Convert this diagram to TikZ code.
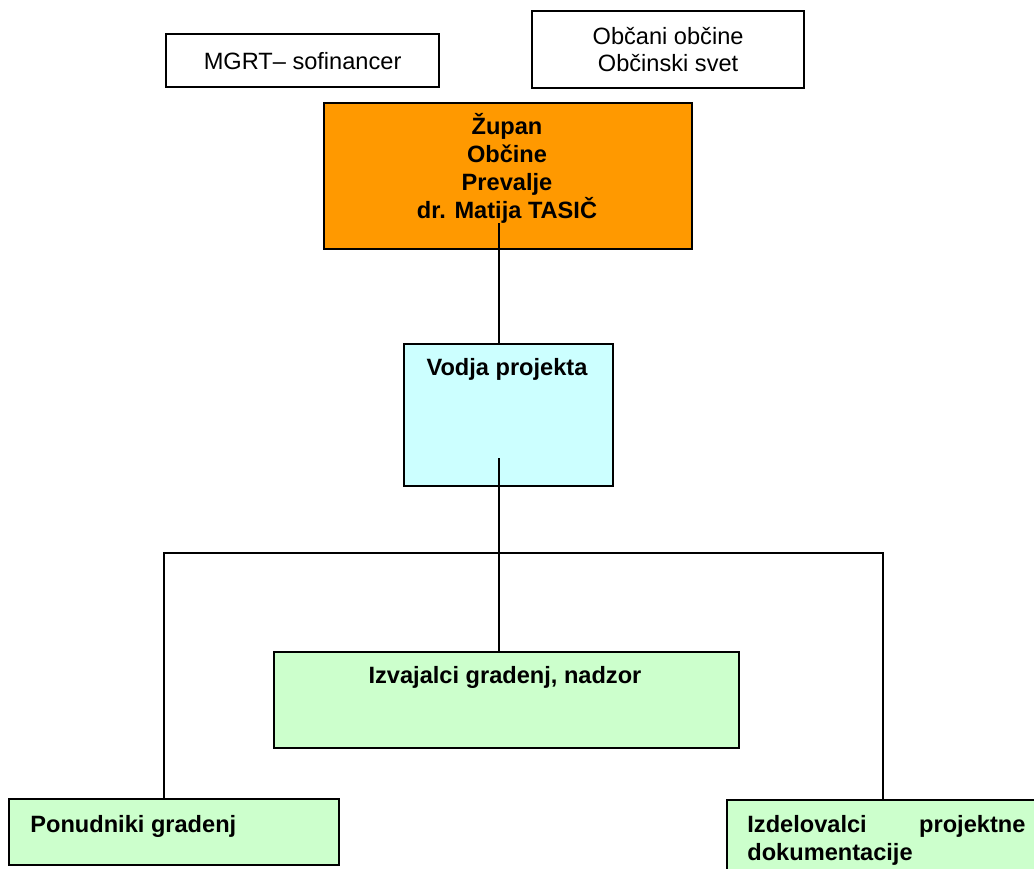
\documentclass[tikz,border=0pt]{standalone}
\usepackage{fontspec}
\setmainfont{Liberation Sans}
\definecolor{orangebox}{HTML}{FF9900}
\definecolor{cyanbox}{HTML}{CCFFFF}
\definecolor{greenbox}{HTML}{CCFFCC}
\begin{document}
\begin{tikzpicture}[x=0.5pt,y=-0.5pt,
  box/.style={draw=black, line width=1.1pt, inner sep=0pt, anchor=north west},
  txt/.style={font=\fontsize{11.8}{13.4}\selectfont, inner sep=0pt},
  btxt/.style={font=\fontsize{11.8}{13.85}\selectfont\bfseries, inner sep=0pt},
  conn/.style={draw=black, line width=1.1pt}]
\useasboundingbox (0,0) rectangle (1034,868);
% boxes
\node[box, txt, minimum width=136.5pt, minimum height=26.5pt] (mgrt) at (165,33) {MGRT– sofinancer};
\node[box, txt, align=center, minimum width=136pt, minimum height=38.5pt] (obc) at (531,10) {Občani občine\\Občinski svet};
\node[box, fill=orangebox, minimum width=184pt, minimum height=73pt] (zup) at (323,102) {};
\node[box, fill=cyanbox, minimum width=104.5pt, minimum height=71pt] (vod) at (403,343) {};
\node[box, fill=greenbox, minimum width=232.5pt, minimum height=48pt] (izv) at (273,651) {};
\node[box, fill=greenbox, minimum width=165pt, minimum height=33pt] (pon) at (8,798) {};
\node[box, fill=greenbox, minimum width=160pt, minimum height=40pt] (izd) at (726,799) {};
% texts (base anchor of a multi-line node = last line's baseline)
\node[btxt, align=center, anchor=base] (zuptxt) at (507,218) {Župan\\Občine\\Prevalje\\dr. Matija TASIČ};
\node[btxt, anchor=base] (vodtxt) at (507,375) {Vodja projekta};
\node[btxt, anchor=base] (izvtxt) at (505,683) {Izvajalci gradenj, nadzor};
\node[btxt, anchor=base west] (pontxt) at (30,832) {Ponudniki gradenj};
\node[btxt, align=left, anchor=base west] (izdtxt) at (747,860) {\makebox[139pt][s]{Izdelovalci projektne}\\dokumentacije};
% connectors
\coordinate (zupfoot) at (499,223);
\coordinate (vodfoot) at (499,458);
\coordinate (split) at (499,553);
\coordinate (lft) at (164,553);
\coordinate (rgt) at (883,553);
\draw[conn] (zupfoot) -- (zupfoot |- vod.north);
\draw[conn] (vodfoot) -- (split) -- (split |- izv.north);
\draw[conn] (lft |- pon.north) -- (lft) -- (rgt) -- (rgt |- izd.north);
\end{tikzpicture}
\end{document}
